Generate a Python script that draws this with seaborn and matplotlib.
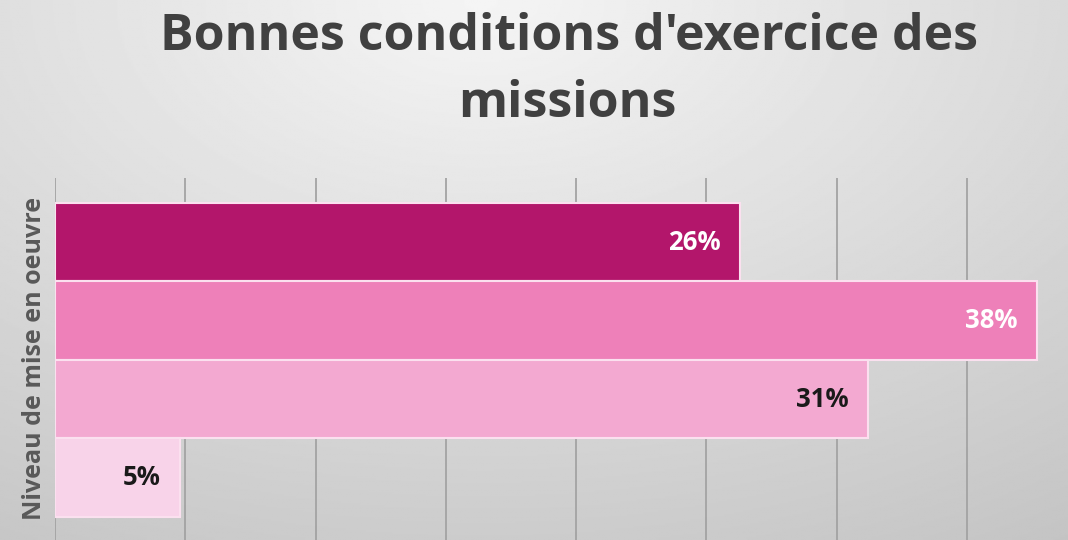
import numpy as np
import pandas as pd
import matplotlib.pyplot as plt
import seaborn as sns

# données (étiquettes arrondies)
niveaux = ["Niveau 1", "Niveau 2", "Niveau 3", "Niveau 4"]
pourcentages = [26.3, 37.7, 31.2, 4.8]
couleurs = ["#b3166b", "#ee80b9", "#f3a9d1", "#f8d3e9"]
couleurs_texte = ["white", "white", "#1a1a1a", "#1a1a1a"]

df = pd.DataFrame({"niveau": niveaux, "pct": pourcentages})

sns.set_style("white")
plt.rcParams['font.family'] = ['Open Sans', 'DejaVu Sans']

fig = plt.figure(figsize=(10.68, 5.40), dpi=100)

# fond dégradé gris
bg = fig.add_axes([0, 0, 1, 1], zorder=-10)
yy, xx = np.mgrid[0:1:300j, 0:1:600j]
dist = np.sqrt(((xx - 0.45) * 1.2) ** 2 + (yy * 1.0) ** 2)
grad = 0.96 - 0.16 * np.clip(dist, 0, 1.2)
bg.imshow(grad, cmap="gray", vmin=0, vmax=1, aspect="auto", extent=[0, 1, 1, 0])
bg.axis("off")

ax = fig.add_axes([55 / 1068, 0, 1042 / 1068, 362 / 540])
ax.patch.set_alpha(0)

sns.barplot(data=df, x="pct", y="niveau", hue="niveau", palette=couleurs,
            saturation=1, legend=False, width=1.0, edgecolor="#fbe0ef",
            linewidth=1.5, orient="h", ax=ax)

ax.set_xlim(0, 40)
ax.set_ylim(3.5 + 0.293, -0.5 - 0.318)
ax.set_xticks(np.arange(0, 41, 5))
ax.set_xticklabels([])
ax.set_yticks([])
ax.set_xlabel("")
ax.set_ylabel("")
ax.grid(axis="x", color="#a3a3a3", linewidth=1.3)
ax.set_axisbelow(True)
ax.tick_params(length=0)
for s in ax.spines.values():
    s.set_visible(False)

for i, (v, c) in enumerate(zip(pourcentages, couleurs_texte)):
    ax.text(v - 0.75, i, f"{round(v)}%", ha="right", va="center",
            fontsize=18.5, fontweight="bold", color=c)

fig.text(35 / 1068, 1 - 358 / 540, "Niveau de mise en oeuvre", rotation=90,
         ha="center", va="center", fontsize=18, fontweight="bold",
         color="#595959")

fig.text(569 / 1068, 1 - 50 / 540, "Bonnes conditions d'exercice des",
         ha="center", va="baseline", fontsize=36, fontweight="bold", color="#404040")
fig.text(567 / 1068, 1 - 117 / 540, "missions",
         ha="center", va="baseline", fontsize=36, fontweight="bold", color="#404040")

fig.savefig("out.png", dpi=100)
